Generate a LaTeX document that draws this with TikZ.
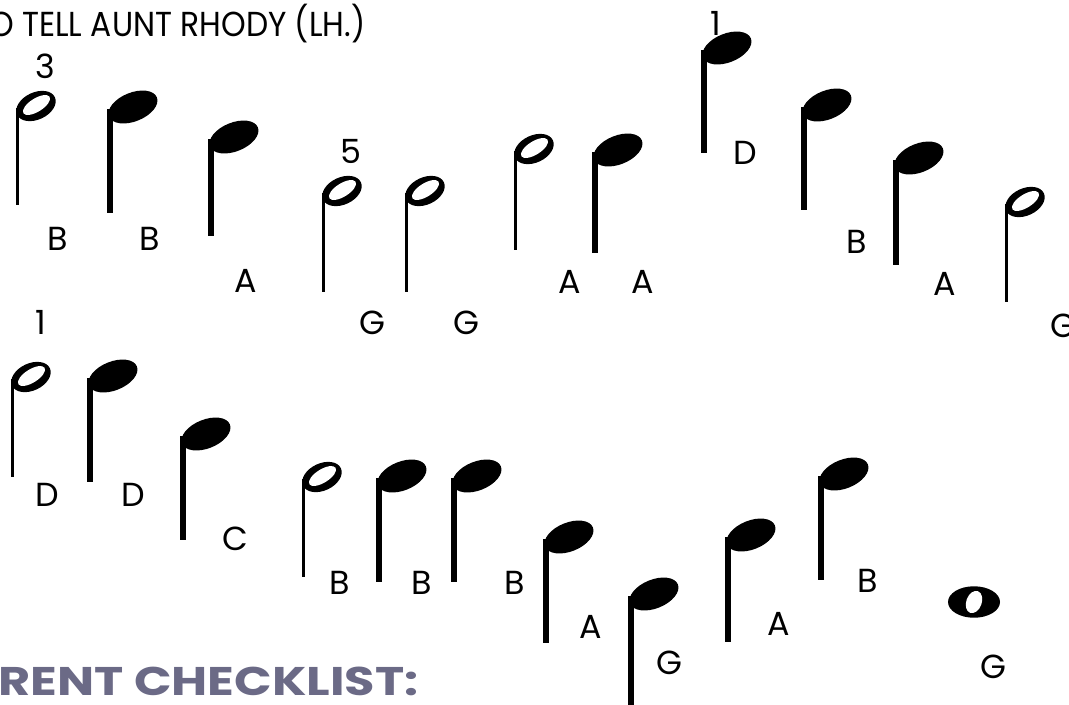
\documentclass[tikz,border=0pt]{standalone}
\usepackage{fontspec}
\newfontfamily\hand{Poppins}
\newfontfamily\chk{Poppins}
\definecolor{chkcol}{HTML}{6B6A86}
\newcommand\qnote[3]{%
  \fill[rotate around={22:(#1,#2)}] (#1,#2) ellipse [x radius=19.3pt, y radius=10.8pt];
  \fill (#1-26,#2+2) rectangle (#1-20,#3);
}
\newcommand\hnote[3]{%
  \fill[rotate around={25:(#1,#2)}] (#1,#2) ellipse [x radius=15.6pt, y radius=10.2pt];
  \fill[white,rotate around={32:(#1+0.5,#2-1)}] (#1+0.5,#2-1) ellipse [x radius=11.6pt, y radius=5pt];
  \fill (#1-20.5,#2+2) rectangle (#1-17.5,#3);
}
\tikzset{
  lbl/.style={font=\hand\fontsize{25}{27}\selectfont, inner sep=0pt, anchor=center, text height=17pt, text depth=0pt},
}
\begin{document}
\begin{tikzpicture}[x=0.75pt,y=-0.75pt]
\useasboundingbox (0,0) rectangle (1069,704);
\clip (0,0) rectangle (1069,704);
\fill[white] (0,0) rectangle (1069,704);
% title
\node[inner sep=0pt, anchor=west, text height=18pt, text depth=0pt] (title) at (-11,24)
  {\resizebox{282pt}{\height}{\hand\fontsize{26}{28}\selectfont O TELL AUNT RHODY (LH.)}};
% checklist heading
\node[inner sep=0pt, anchor=west, text height=21pt, text depth=0pt, text=chkcol] (check) at (-2,681)
  {\resizebox{315pt}{\height}{\chk\bfseries\fontsize{30}{32}\selectfont RENT CHECKLIST:}};
% row 1 notes
\hnote{36}{106}{205}
\qnote{133}{107}{213}
\qnote{234}{137}{236}
\hnote{342}{191}{292}
\hnote{425}{191}{292}
\hnote{534}{149}{250}
\qnote{618}{150}{253}
\qnote{727}{48}{153}
\qnote{827}{105}{210}
\qnote{919}{158}{265}
\hnote{1025}{202}{302}
% row 2 notes
\hnote{31}{377}{477}
\qnote{113}{376}{482}
\qnote{206}{434}{540}
\hnote{322}{477}{577}
\qnote{402}{476}{582}
\qnote{477}{476}{582}
\qnote{569}{537}{643}
\qnote{654}{594}{720}
\qnote{751}{535}{642}
\qnote{844}{474}{580}
% whole note
\fill (974,602) ellipse [x radius=19.5pt, y radius=11.8pt];
\fill[white,rotate around={-20:(974,602)}] (974,602) ellipse [x radius=5.8pt, y radius=8.6pt];
% finger numbers
\node[lbl] (f3) at (45,67) {3};
\node[lbl] (f5) at (351,152) {5};
\node[lbl] (f1a) at (716,24) {1};
\node[lbl] (f1b) at (41,323) {1};
% letter labels row 1
\node[lbl] (l1) at (58,239) {B};
\node[lbl] (l2) at (150,239) {B};
\node[lbl] (l3) at (246,281) {A};
\node[lbl] (l4) at (372,323) {G};
\node[lbl] (l5) at (466,323) {G};
\node[lbl] (l6) at (570,282) {A};
\node[lbl] (l7) at (643,282) {A};
\node[lbl] (l8) at (745,153) {D};
\node[lbl] (l9) at (857,242) {B};
\node[lbl] (l10) at (945,284) {A};
\node[lbl] (l11) at (1063,326) {G};
% letter labels row 2
\node[lbl] (m1) at (47,495) {D};
\node[lbl] (m2) at (133,495) {D};
\node[lbl] (m3) at (235,539) {C};
\node[lbl] (m4) at (340,583) {B};
\node[lbl] (m5) at (422,583) {B};
\node[lbl] (m6) at (515,583) {B};
\node[lbl] (m7) at (591,627) {A};
\node[lbl] (m8) at (669,663) {G};
\node[lbl] (m9) at (779,624) {A};
\node[lbl] (m10) at (868,581) {B};
\node[lbl] (m11) at (993,667) {G};
\end{tikzpicture}
\end{document}
